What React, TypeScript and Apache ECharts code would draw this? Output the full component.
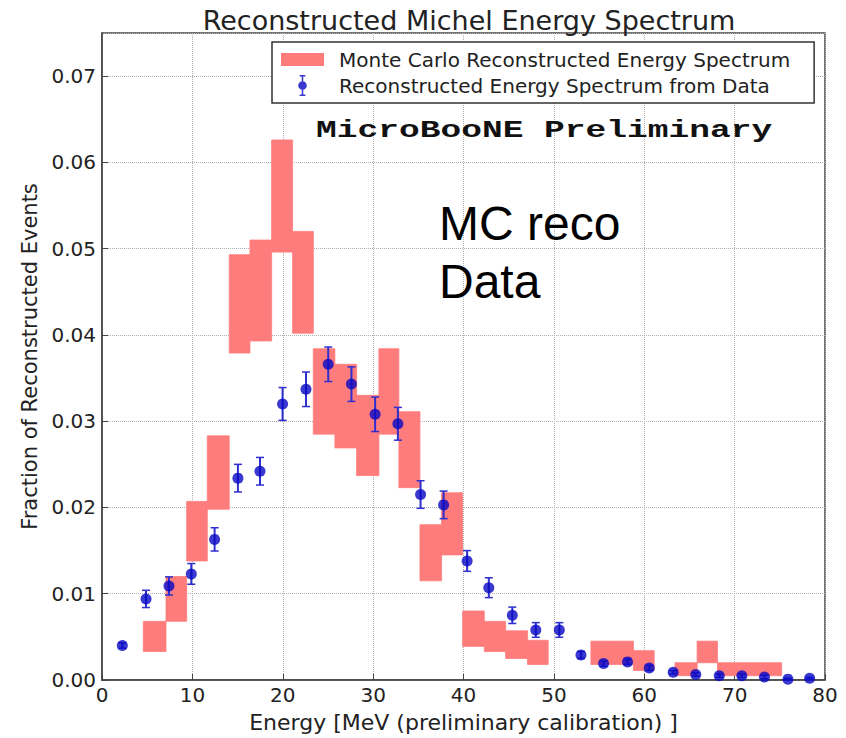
import React, { useEffect, useRef } from "react";
import * as echarts from "echarts";

// ---- Data ----
// Data points (energy in MeV, fraction of reconstructed events, error)
const dataEnergy = [
  2.25, 4.87, 7.41, 9.88, 12.46, 15.04, 17.48, 19.98, 22.57, 25.03, 27.6, 30.22,
  32.74, 35.25, 37.8, 40.4, 42.8, 45.4, 48.0, 50.6, 53.0, 55.5, 58.15, 60.55,
  63.2, 65.7, 68.3, 70.8, 73.3, 75.9, 78.3,
];
const dataFraction = [
  0.004, 0.0094, 0.0109, 0.0123, 0.0163, 0.0234, 0.0242, 0.032, 0.0337, 0.0366,
  0.0343, 0.0308, 0.0297, 0.0215, 0.0203, 0.0138, 0.0107, 0.0075, 0.0058, 0.0058,
  0.0029, 0.0019, 0.0021, 0.0014, 0.0009, 0.00065, 0.0005, 0.0005, 0.00035,
  0.0001, 0.0002,
];
const dataError = [
  0.0003, 0.001, 0.00105, 0.0012, 0.00135, 0.0016, 0.0016, 0.0019, 0.002, 0.002,
  0.002, 0.002, 0.0019, 0.0016, 0.0016, 0.0012, 0.00115, 0.00095, 0.00085,
  0.00085, 0.0004, 0.0003, 0.0003, 0.0003, 0.0002, 0.0002, 0.0002, 0.0002,
  0.0002, 0.0001, 0.0001,
];

// Monte Carlo bands (bin edges in MeV, lower / upper fraction)
const mcBinLow = [
  4.57, 7.08, 9.37, 11.65, 14.08, 16.37, 18.77, 21.09, 23.38, 25.77, 28.17,
  30.64, 32.85, 35.18, 37.57, 39.9, 42.3, 44.66, 47.09, 54.1, 56.4, 58.8, 63.4,
  65.85, 68.1, 70.5, 72.85,
];
const mcBinHigh = [
  7.08, 9.37, 11.65, 14.08, 16.37, 18.77, 21.09, 23.38, 25.77, 28.17, 30.64,
  32.85, 35.18, 37.57, 39.9, 42.3, 44.66, 47.09, 49.37, 56.4, 58.8, 61.1, 65.85,
  68.1, 70.5, 72.85, 75.2,
];
const mcFractionLow = [
  0.0033, 0.0068, 0.0138, 0.0198, 0.0379, 0.0393, 0.0496, 0.0402, 0.0285,
  0.0269, 0.0237, 0.0285, 0.0223, 0.0115, 0.0145, 0.0039, 0.0033, 0.0025,
  0.0018, 0.0018, 0.0018, 0.0011, 0.0005, 0.002, 0.0005, 0.0005, 0.0005,
];
const mcFractionHigh = [
  0.0068, 0.012, 0.0207, 0.0283, 0.0493, 0.051, 0.0626, 0.052, 0.0384, 0.0366,
  0.033, 0.0384, 0.0311, 0.018, 0.0217, 0.008, 0.0068, 0.0057, 0.0046, 0.0045,
  0.0045, 0.0034, 0.002, 0.0045, 0.002, 0.002, 0.002,
];

const MC_NAME = "Monte Carlo Reconstructed Energy Spectrum";
const DATA_NAME = "Reconstructed Energy Spectrum from Data";
const TITLE = "Reconstructed Michel Energy Spectrum";
const X_NAME = "Energy [MeV (preliminary calibration) ]";
const Y_NAME = "Fraction of Reconstructed Events";

const MC_COLOR = "#ff7c7c";
const DOT_COLOR = "#0808c4";
const BAR_COLOR = "#2f2fcf";
const FONT = "DejaVu Sans";

const mcIcon =
  "path://M0,-4L0.01,-4Z M0,0L43,0L43,13L0,13Z M0,17L0.01,17Z";
const dataIcon =
  "path://M3,0L9,0L9,1.6L3,1.6Z M5.2,0L6.8,0L6.8,22L5.2,22Z M3,20.4L9,20.4L9,22L3,22Z M1.5,11A4.5,4.5 0 1,1 10.5,11A4.5,4.5 0 1,1 1.5,11Z";

export default function App() {
  const ref = useRef<HTMLDivElement>(null);

  useEffect(() => {
    if (!ref.current) return;
    const chart = echarts.init(ref.current, null, { renderer: "svg" });

    const mcData = mcBinLow.map((lo, i) => [
      lo,
      mcBinHigh[i],
      mcFractionLow[i],
      mcFractionHigh[i],
    ]);
    const errData = dataEnergy.map((e, i) => [
      e,
      dataFraction[i] - dataError[i],
      dataFraction[i] + dataError[i],
    ]);
    const pointData = dataEnergy.map((e, i) => [e, dataFraction[i]]);

    const option: any = {
      animation: false,
      backgroundColor: "#ffffff",
      title: {
        text: TITLE,
        left: 464,
        top: 2,
        textAlign: "center",
        textStyle: {
          fontFamily: FONT,
          fontWeight: "normal",
          fontSize: 27,
          color: "#222",
        },
      },
      legend: {
        orient: "vertical",
        left: 272,
        top: 42,
        padding: [7, 24, 7, 9],
        itemWidth: 43,
        itemHeight: 21,
        itemGap: 5,
        borderColor: "#333",
        borderWidth: 1.5,
        backgroundColor: "#fff",
        selectedMode: false,
        textStyle: {
          fontFamily: FONT,
          fontSize: 20,
          color: "#222",
          padding: [0, 0, 0, 10],
        },
        data: [
          { name: MC_NAME, icon: mcIcon, itemStyle: { color: MC_COLOR } },
          { name: DATA_NAME, icon: dataIcon, itemStyle: { color: DOT_COLOR } },
        ],
      },
      grid: {
        left: 102,
        right: 21,
        top: 33,
        bottom: 53,
        show: true,
        borderColor: "#444",
        borderWidth: 1.5,
      },
      xAxis: {
        type: "value",
        min: 0,
        max: 80,
        interval: 10,
        name: X_NAME,
        nameLocation: "middle",
        nameGap: 31,
        nameTextStyle: { fontFamily: FONT, fontSize: 22, color: "#222" },
        axisLine: { show: true, lineStyle: { color: "#444", width: 1.5 } },
        axisTick: { show: true, inside: true, length: 6, lineStyle: { color: "#444" } },
        axisLabel: { fontFamily: FONT, fontSize: 20, color: "#222", margin: 5 },
        splitLine: { show: true, lineStyle: { type: "dotted", color: "#b0b0b0", width: 1 } },
      },
      yAxis: {
        type: "value",
        min: 0,
        max: 0.075,
        interval: 0.01,
        name: Y_NAME,
        nameLocation: "middle",
        nameRotate: 90,
        nameGap: 62,
        nameTextStyle: { fontFamily: FONT, fontSize: 21, color: "#222" },
        axisLine: { show: true, lineStyle: { color: "#444", width: 1.5 } },
        axisTick: { show: true, inside: true, length: 6, lineStyle: { color: "#444" } },
        axisLabel: {
          fontFamily: FONT,
          fontSize: 20,
          color: "#222",
          margin: 6,
          showMaxLabel: false,
          formatter: (v: number) => v.toFixed(2),
        },
        splitLine: { show: true, lineStyle: { type: "dotted", color: "#b0b0b0", width: 1 } },
      },
      graphic: [
        {
          type: "text",
          x: 316,
          y: 131,
          scaleX: 1.44,
          z: 100,
          style: {
            text: "MicroBooNE Preliminary",
            font: 'bold 24px "Liberation Mono"',
            fill: "#111",
            verticalAlign: "middle",
          },
        },
        {
          type: "text",
          x: 439,
          y: 223,
          z: 100,
          style: {
            text: "MC reco",
            font: '48px "Liberation Sans"',
            fill: "#000",
            verticalAlign: "middle",
          },
        },
        {
          type: "text",
          x: 439,
          y: 281,
          z: 100,
          style: {
            text: "Data",
            font: '48px "Liberation Sans"',
            fill: "#000",
            verticalAlign: "middle",
          },
        },
      ],
      series: [
        {
          name: MC_NAME,
          type: "custom",
          z: 1,
          itemStyle: { color: MC_COLOR },
          encode: { x: [0, 1], y: [2, 3] },
          data: mcData,
          renderItem: (params: any, api: any) => {
            const p0 = api.coord([api.value(0), api.value(3)]);
            const p1 = api.coord([api.value(1), api.value(2)]);
            return {
              type: "rect",
              shape: {
                x: p0[0],
                y: p0[1],
                width: p1[0] - p0[0],
                height: p1[1] - p0[1],
              },
              style: { fill: MC_COLOR, stroke: MC_COLOR, lineWidth: 0.8 },
            };
          },
        },
        {
          name: DATA_NAME,
          type: "scatter",
          z: 3,
          symbol: "circle",
          symbolSize: 11,
          itemStyle: { color: DOT_COLOR },
          data: pointData,
        },
        {
          name: DATA_NAME,
          type: "custom",
          z: 2,
          itemStyle: { color: BAR_COLOR },
          encode: { x: 0, y: [1, 2] },
          data: errData,
          renderItem: (params: any, api: any) => {
            const x = api.value(0);
            const pLo = api.coord([x, api.value(1)]);
            const pHi = api.coord([x, api.value(2)]);
            const cap = 4;
            const st = { stroke: BAR_COLOR, lineWidth: 2 };
            return {
              type: "group",
              children: [
                { type: "line", shape: { x1: pLo[0], y1: pLo[1], x2: pHi[0], y2: pHi[1] }, style: st },
                { type: "line", shape: { x1: pLo[0] - cap, y1: pLo[1], x2: pLo[0] + cap, y2: pLo[1] }, style: { stroke: BAR_COLOR, lineWidth: 1.5 } },
                { type: "line", shape: { x1: pHi[0] - cap, y1: pHi[1], x2: pHi[0] + cap, y2: pHi[1] }, style: { stroke: BAR_COLOR, lineWidth: 1.5 } },
              ],
            };
          },
        },
      ],
    };

    chart.setOption(option);
    return () => chart.dispose();
  }, []);

  return (
    <div
      ref={ref}
      style={{ position: "fixed", left: 0, top: 0, width: 846, height: 738 }}
    />
  );
}
